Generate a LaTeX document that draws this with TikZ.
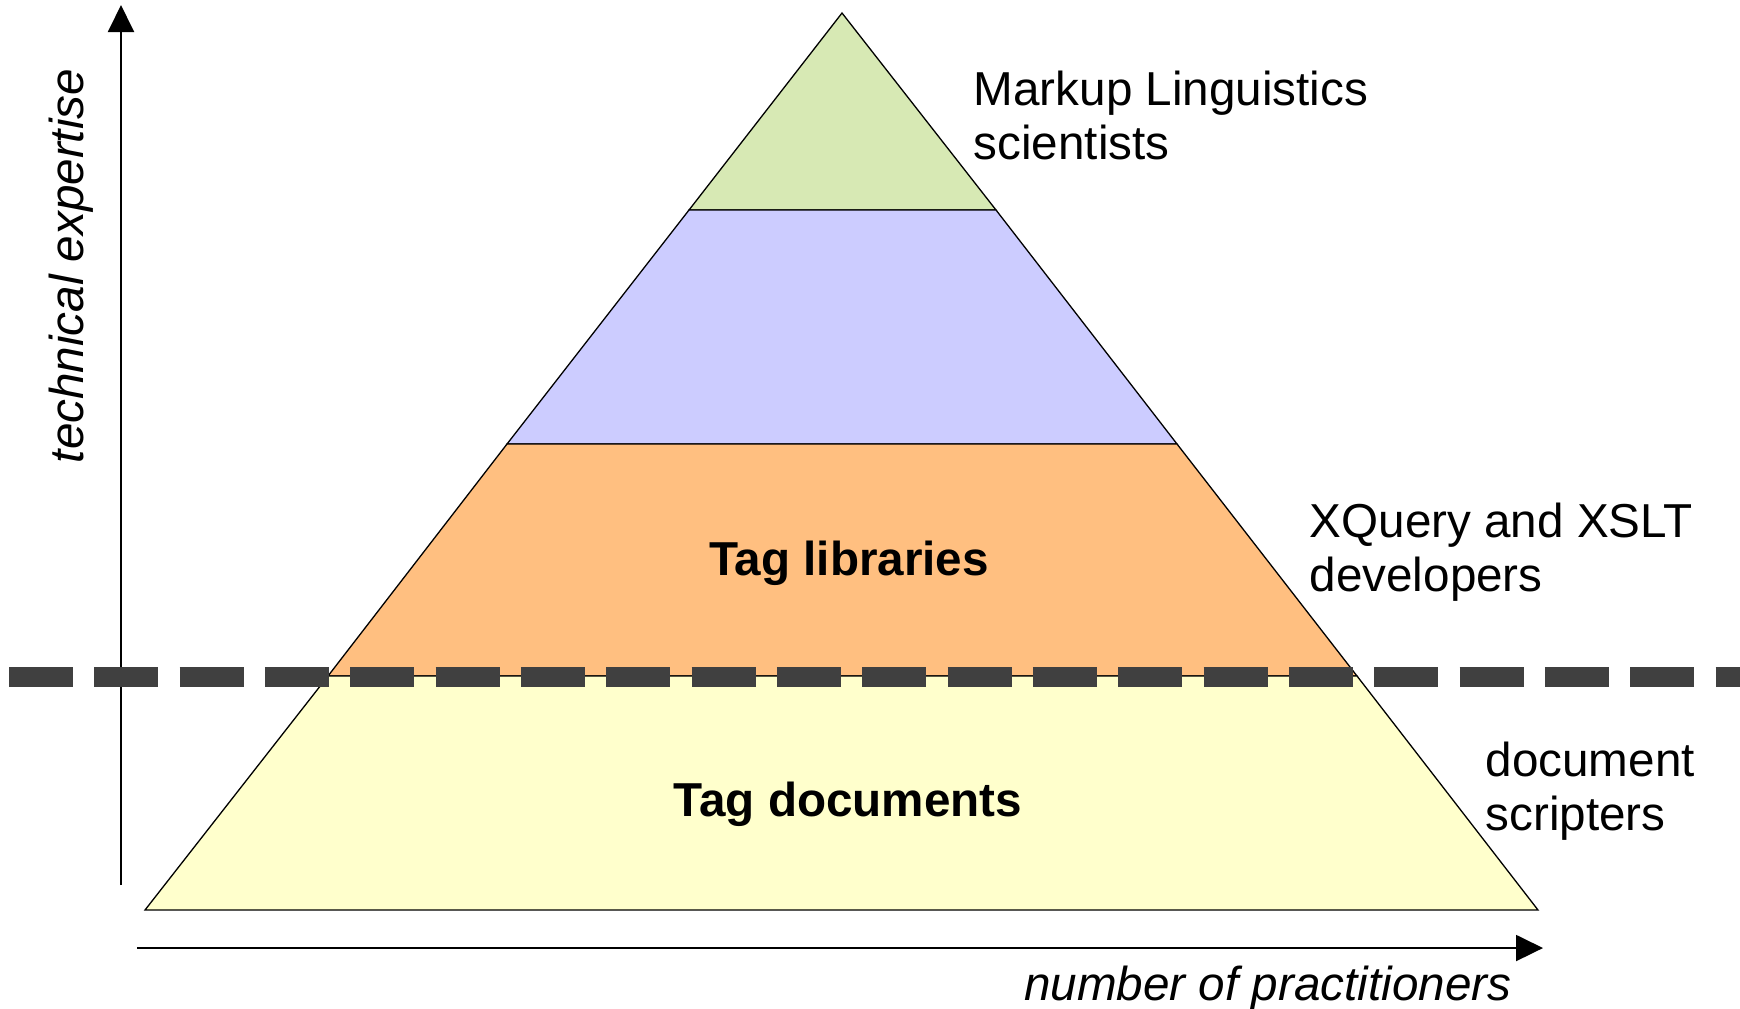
\documentclass[tikz,border=0pt]{standalone}
\usepackage{fontspec}
\setmainfont{Liberation Sans}
\usetikzlibrary{arrows.meta}
\definecolor{topgreen}{HTML}{D7E9B4}
\definecolor{midblue}{HTML}{CCCCFF}
\definecolor{liborange}{HTML}{FFBF80}
\definecolor{docyellow}{HTML}{FFFFCC}
\definecolor{cutgray}{HTML}{404040}
\tikzset{
  layer/.style={draw=black, line width=0.13mm},
  axis/.style={line width=0.2mm, -{Triangle[length=2.7mm,width=2.6mm]}},
  lab/.style={inner sep=0pt, align=left, font=\fontsize{13.55}{15.3}\selectfont},
  big/.style={inner sep=0pt, font=\fontsize{13.55}{15.3}\selectfont\bfseries}
}

\begin{document}
\begin{tikzpicture}[x=0.1mm,y=-0.1mm]
\useasboundingbox (0,0) rectangle (1740,1008);

% corners of the pyramid
\coordinate (A) at (842,13);
\coordinate (L1) at (689,210);
\coordinate (R1) at (996,210);
\coordinate (L2) at (507,444);
\coordinate (R2) at (1177,444);
\coordinate (L3) at (328,676);
\coordinate (R3) at (1357,676);
\coordinate (L4) at (145,910);
\coordinate (R4) at (1538,910);

\path [layer, fill=topgreen] (A) -- (L1) -- (R1) -- cycle;
\path [layer, fill=midblue] (L1) -- (L2) -- (R2) -- (R1) -- cycle;
\path [layer, fill=liborange] (L2) -- (L3) -- (R3) -- (R2) -- cycle;
\path [layer, fill=docyellow] (L3) -- (L4) -- (R4) -- (R3) -- cycle;

% axes
\coordinate (Y0) at (121,885);
\coordinate (Y1) at (121,5);
\coordinate (X0) at (137,948);
\coordinate (X1) at (1543,948);
\draw [axis] (Y0) -- (Y1);
\draw [axis] (X0) -- (X1);

% dividing line
\coordinate (D0) at (9,677);
\coordinate (D1) at (1740,677);
\draw [cutgray, line width=2.07mm, dash pattern=on 6.4mm off 2.133mm] (D0) -- (D1);

\path (849,575) node (TL) [big, anchor=base] {Tag libraries};
\path (848,816) node (TD) [big, anchor=base] {Tag documents};

\path (973,70) node (ML) [lab, anchor=north west] {Markup Linguistics\\scientists};
\path (1309,502) node (XQ) [lab, anchor=north west] {XQuery and XSLT\\developers};
\path (1485,741) node (DS) [lab, anchor=north west] {document\\scripters};

\path (83,266) node (TE) [lab, anchor=base, rotate=90, font=\fontsize{13.55}{15.3}\selectfont\itshape] {technical expertise};
\path (1512,1000) node (NP) [lab, anchor=base east, font=\fontsize{13.55}{15.3}\selectfont\itshape] {number of practitioners};

\end{tikzpicture}
\end{document}
